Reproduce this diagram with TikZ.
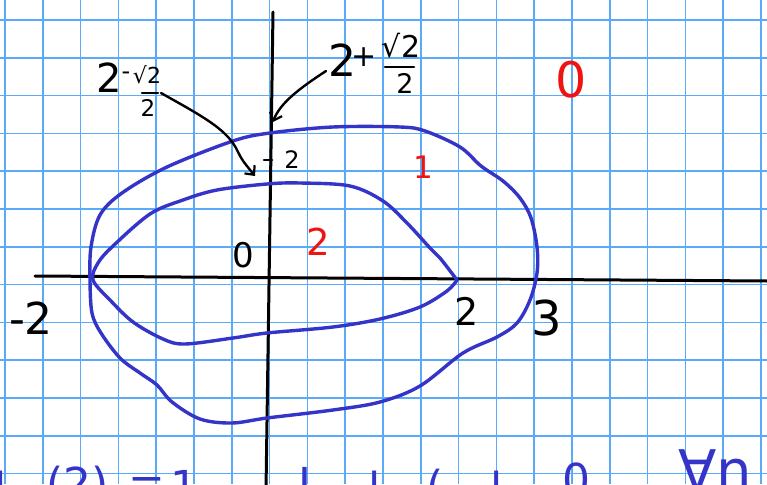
\documentclass[tikz,border=0pt]{standalone}
\usepackage{fontspec}
\setmainfont{DejaVu Sans}
\usetikzlibrary{arrows.meta}
\definecolor{gridblue}{RGB}{90,170,250}
\definecolor{penblue}{RGB}{52,52,200}
\definecolor{penred}{RGB}{238,20,20}
\tikzset{
  gridline/.style={gridblue,line width=1.6pt},
  axisline/.style={black,line width=3pt,line cap=round},
  curveline/.style={penblue,line width=3.4pt,line cap=round,line join=round},
  fracbar/.style={black,line width=2.6pt,line cap=round},
  pointer/.style={black,line width=2.4pt,line cap=round,-{Straight Barb[length=7pt,width=13pt,line width=2.2pt]}},
  txt/.style={inner sep=0pt,black},
  redtxt/.style={inner sep=0pt,penred},
  bottomtxt/.style={inner sep=0pt,penblue,anchor=base west,font=\fontsize{44}{48}\selectfont},
  sz/.style={font=\fontsize{#1}{#1}\selectfont}
}
\begin{document}
\begin{tikzpicture}[x=1pt,y=-1pt]
\useasboundingbox (0,0) rectangle (767,484);
\clip (0,0) rectangle (767,484);
\fill[white] (0,0) rectangle (767,484);
% grid
\foreach \i in {0,...,20} \draw[gridline] ({5+37.8*\i},0) -- ({5+37.8*\i},484);
\foreach \j in {0,...,12} \draw[gridline] (0,{20+37.8*\j}) -- (767,{20+37.8*\j});
% axes
\draw[axisline] (35,276) -- (767,281);
\draw[axisline] (273,12) -- (266,490);
\draw[black,line width=2.6pt,line cap=round] (264,160) -- (272,160);
% outer curve
\draw[curveline] plot[smooth cycle,tension=0.55] coordinates {
 (270,133) (333,127) (400,127) (425,131) (460,147) (481,166) (503,181)
 (520,198) (531,218) (537,247) (537,273) (530,300) (517,323) (497,337)
 (463,353) (420,386) (380,402) (333,410) (267,418) (232,423) (200,419)
 (172,402) (157,385) (140,373) (120,358) (101,333) (92,313) (90,280)
 (91,247) (100,215) (122,193) (167,167) (233,141)};
% inner curve
\draw[curveline] plot[smooth,tension=0.55] coordinates {
 (457,280) (440,258) (430,248) (407,223) (383,201) (350,186) (300,183)
 (267,184) (217,190) (183,200) (150,214) (113,246) (98,263) (93,280)
 (110,300) (133,322) (163,339) (185,344) (233,338) (267,333) (333,327)
 (380,319) (420,307) (447,291) (457,280)};
% label 2 - sqrt2/2
\node[txt,sz=40] (lblA) at (109,78) {2};
\node[txt,sz=24] (lblAm) at (126,76) {-};
\node[txt,sz=22] (lblAn) at (147,75) {√2};
\draw[fracbar] (142,93) -- (158,93);
\node[txt,sz=23] (lblAd) at (148,108) {2};
% label 2 + sqrt2/2
\node[txt,sz=44] (lblB) at (342,60) {2};
\node[txt,sz=30] (lblBp) at (364,57) {+};
\node[txt,sz=30] (lblBn) at (401,46) {√2};
\draw[fracbar] (385,67) -- (414,67);
\node[txt,sz=27] (lblBd) at (405,83) {2};
% axis labels
\node[txt,sz=24] (ytick) at (292,160) {2};
\node[txt,sz=44] (xm2) at (31,318) {-2};
\node[txt,sz=38] (x2) at (467,311) {2};
\node[txt,sz=48] (x3) at (547,318) {3};
\node[txt,sz=34] (orig) at (243,255) {0};
% region numbers
\node[redtxt,sz=37] (r2) at (318,242) {2};
\node[redtxt,sz=31] (r1) at (423,167) {1};
\node[redtxt,sz=49] (r0) at (571,80) {0};
% pointers
\coordinate (a1s) at (161,93);
\coordinate (a1e) at (255,176);
\coordinate (a2s) at (326,71);
\coordinate (a2e) at (273,122);
\draw[pointer] (a1s) .. controls (200,115) and (225,128) .. (236,148) .. controls (242,160) .. (a1e);
\draw[pointer] (a2s) .. controls (300,88) and (280,103) .. (a2e);
% clipped writing at the bottom
\node[bottomtxt] (b1) at (-6,504) {l};
\node[bottomtxt] (b2) at (46,499) {(2)};
\node[bottomtxt] (b3) at (128,497) {=};
\node[bottomtxt] (b4) at (170,502) {1};
\node[bottomtxt] (b5) at (298,499) {I};
\node[bottomtxt] (b6) at (368,504) {l};
\node[bottomtxt] (b7) at (426,502) {(};
\node[bottomtxt] (b8) at (490,504) {l};
\node[bottomtxt] (b9) at (562,495) {0};
\node[bottomtxt,sz=56] (b10) at (678,490) {∀n};
\end{tikzpicture}
\end{document}
